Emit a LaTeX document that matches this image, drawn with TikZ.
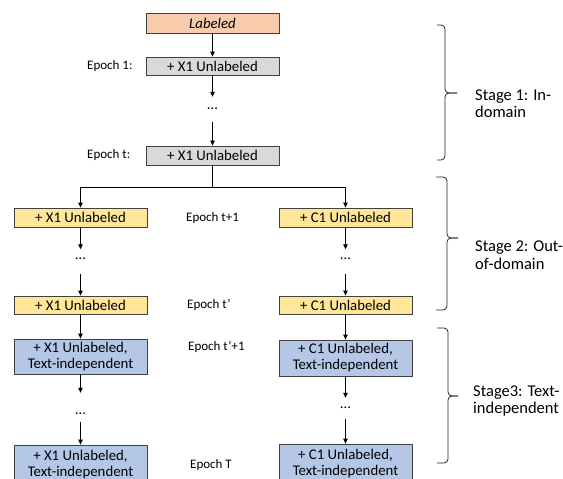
\documentclass[tikz,border=0pt]{standalone}
\usepackage{fontspec}
\setmainfont{Carlito}
\usetikzlibrary{arrows.meta}
\definecolor{peach}{HTML}{F8CBAD}
\definecolor{grayfill}{HTML}{D9D9D9}
\definecolor{yellowfill}{HTML}{FFE699}
\definecolor{bluefill}{HTML}{B4C7E7}
\definecolor{edge}{HTML}{404040}
\begin{document}
\begin{tikzpicture}[x=1pt,y=-1pt,
  box/.style={draw=edge, line width=0.8pt, minimum width=133pt, inner sep=0pt, align=center, font=\fontsize{14.8}{16}\selectfont},
  arr/.style={draw=black, line width=0.8pt, -{Triangle[length=5pt,width=4.5pt]}},
  ell/.style={inner sep=0pt, minimum width=12pt, font=\fontsize{14.8}{16}\selectfont},
  epoch/.style={anchor=west, inner sep=0pt, font=\fontsize{13}{15}\selectfont},
  stage/.style={anchor=west, inner sep=0pt, align=left, font=\fontsize{16.5}{17.5}\selectfont},
  brc/.style={draw=black!85, line width=0.8pt, rounded corners=4pt}]
\useasboundingbox (0,0) rectangle (563,479);
\clip (0,0) rectangle (563,479);
\fill[white] (0,0) rectangle (563,479);

% top column
\node[box, fill=peach, minimum height=20pt] (lab) at (212.5,23) {\itshape Labeled};
\node[box, fill=grayfill, minimum height=18pt] (e1) at (212.5,66) {+ X1 Unlabeled};
\node[ell, minimum height=25pt, text height=0pt, text depth=1pt] (d0) at (212.5,109.5) {\ldots};
\node[box, fill=grayfill, minimum height=19pt] (et) at (212.5,155.5) {+ X1 Unlabeled};

% left column
\node[box, fill=yellowfill, minimum height=19pt] (yl1) at (80.5,217.5) {+ X1 Unlabeled};
\node[ell, minimum height=24pt, text height=0pt, text depth=5pt] (dl1) at (80.5,261.5) {\ldots};
\node[box, fill=yellowfill, minimum height=18pt] (yl2) at (80.5,305) {+ X1 Unlabeled};
\node[box, fill=bluefill, minimum height=35pt] (bl1) at (80.5,356.5) {+ X1 Unlabeled,\\Text-independent};
\node[ell, minimum height=29pt, text height=13pt, text depth=0pt] (dl2) at (80.5,407.5) {\ldots};
\node[box, fill=bluefill, minimum height=40pt] (bl2) at (80.5,465) {+ X1 Unlabeled,\\Text-independent};

% right column
\node[box, fill=yellowfill, minimum height=19pt] (yr1) at (345.5,217.5) {+ C1 Unlabeled};
\node[ell, minimum height=24pt, text height=0pt, text depth=5pt] (dr1) at (345.5,261.5) {\ldots};
\node[box, fill=yellowfill, minimum height=18pt] (yr2) at (345.5,305) {+ C1 Unlabeled};
\node[box, fill=bluefill, minimum height=36pt] (br1) at (345.5,358) {+ C1 Unlabeled,\\Text-independent};
\node[ell, minimum height=21pt, text height=0pt, text depth=1pt] (dr2) at (345.5,408.5) {\ldots};
\node[box, fill=bluefill, minimum height=40pt] (br2) at (345.5,464) {+ C1 Unlabeled,\\Text-independent};

% epoch labels
\node[epoch] (ep1) at (87,66) {Epoch 1:};
\node[epoch] (ept) at (87,155.5) {Epoch t:};
\node[epoch] (ept1) at (186,218) {Epoch t+1};
\node[epoch] (eptp) at (187,305) {Epoch t’};
\node[epoch] (eptp1) at (188,347) {Epoch t’+1};
\node[epoch] (epT) at (190,465) {Epoch T};

% arrows
\draw[arr] (lab) -- (e1);
\draw[arr] (e1) -- (d0);
\draw[arr] (d0) -- (et);
\draw[arr] (et.south) -- ++(0,22) -| (yl1.north);
\draw[arr] (et.south) -- ++(0,22) -| (yr1.north);
\draw[arr] (yl1) -- (dl1);
\draw[arr] (dl1) -- (yl2);
\draw[arr] (yl2) -- (bl1);
\draw[arr] (bl1) -- (dl2);
\draw[arr] (dl2) -- (bl2);
\draw[arr] (yr1) -- (dr1);
\draw[arr] (dr1) -- (yr2);
\draw[arr] (yr2) -- (br1);
\draw[arr] (br1) -- (dr2);
\draw[arr] (dr2) -- (br2);

% braces
\draw[brc] (437,25) -- (445,25) -- (445,93) -- (457,93);
\draw[brc] (457,93) -- (445,93) -- (445,160) -- (437,160);
\draw[brc] (436,177) -- (447,177) -- (447,238) -- (458,238);
\draw[brc] (458,238) -- (447,238) -- (447,310) -- (436,310);
\draw[brc] (437,328) -- (448,328) -- (448,396) -- (458,396);
\draw[brc] (458,396) -- (448,396) -- (448,463) -- (437,463);

% stage labels
\node[stage] (s1) at (475,103.5) {Stage 1: In-\\domain};
\node[stage] (s2) at (475,255) {Stage 2: Out-\\of-domain};
\node[stage] (s3) at (473,401) {Stage3: Text-\\independent};
\end{tikzpicture}
\end{document}
